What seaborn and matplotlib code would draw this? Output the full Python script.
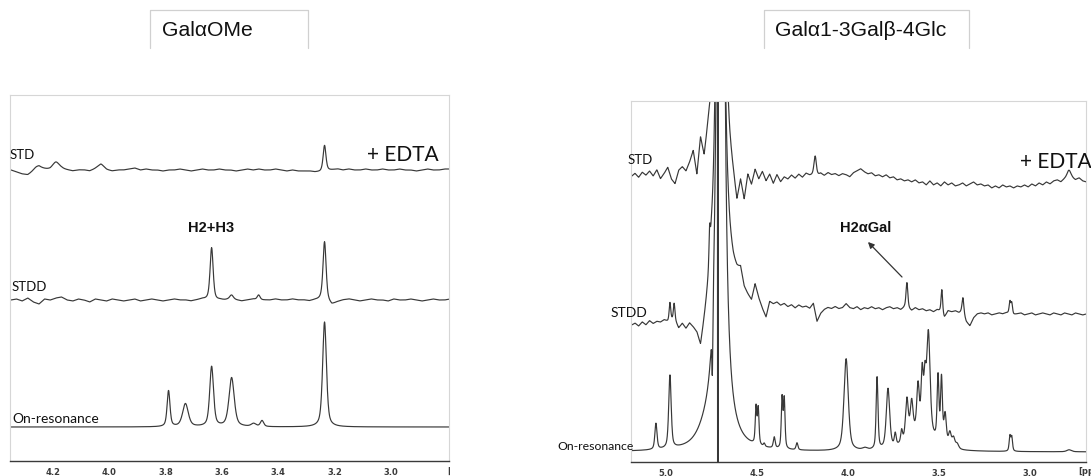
import numpy as np
import pandas as pd
import matplotlib
matplotlib.use("Agg")
import matplotlib.pyplot as plt
import seaborn as sns
from matplotlib.lines import Line2D
from matplotlib.ticker import MultipleLocator, FormatStrFormatter
from matplotlib.transforms import Bbox

# ---------------------------------------------------------------- data
# Peaks are (shift in ppm, height, full width at half height in ppm).
# Heights are in plot units (one unit = one pixel of the drawn figure).

# GalαOMe
gal_onres_peaks = [(3.790, 36, 0.012), (3.730, 23, 0.024), (3.637, 60, 0.016),
                   (3.566, 49, 0.022), (3.488, 3, 0.020), (3.458, 6, 0.014),
                   (3.236, 105, 0.016)]
gal_stdd_peaks = [(3.637, 53, 0.013), (3.566, 4, 0.015), (3.470, 5, 0.012),
                  (3.236, 59, 0.013)]
gal_std_peaks = [(4.260, 3, 0.030), (4.190, 7, 0.030), (4.030, 3, 0.030),
                 (3.236, 26, 0.012)]
# baseline of the difference spectra, one value every 0.02 ppm from 4.35 ppm
gal_base_start = 4.35
gal_std_base = [0, -2, -4, -5, -2, 2, 1, 0, 1, 1,
                0, -1, 0, 0, -1, 1, 3, 0, -1, 0,
                0, 1, 2, 0, 1, 0, 0, -1, 0, 0,
                1, 0, -1, 0, 1, 0, 0, 1, 0, 0,
                -1, 0, 1, 0, 1, 0, 0, 1, 0, -1,
                0, -1, -1, -1, -2, -2, -1, 0, 1, 0,
                1, 0, 0, 1, 0, 0, 1, 0, 0, 1,
                0, 0, -1, 0, 1, 0, 0, 1, 1]
gal_stdd_base = [0, 1, -1, 2, -2, -4, 1, 0, 2, 3,
                 0, -1, 1, 0, -2, 1, 0, -1, 1, 0,
                 -1, 0, 1, -1, 0, 1, 0, -1, 0, 1,
                 0, 0, -1, 0, 1, 0, -1, 0, 0, 1,
                 0, -1, 0, 1, 0, 0, 0, 1, 0, 0,
                 1, 0, 0, -1, 0, 0, -1, -5, -2, 0,
                 1, 0, -1, 0, 1, 0, 0, -1, 1, 0,
                 0, 1, 0, -1, 0, 1, 0, 0, 1]

# Galα1-3Galβ-4Glc
tri_onres_peaks = [(5.055, 26, 0.014), (4.978, 73, 0.016), (4.780, 10, 0.100),
                   (4.745, -60, 0.006), (4.714, -3000, 0.003),
                   (4.505, 37, 0.010), (4.493, 36, 0.010), (4.460, 3, 0.010),
                   (4.405, 11, 0.012), (4.362, 50, 0.010), (4.350, 49, 0.010),
                   (4.280, 7, 0.012), (4.010, 92, 0.028), (3.907, 2, 0.030),
                   (3.840, 72, 0.012), (3.780, 60, 0.022), (3.740, 12, 0.012),
                   (3.705, 12, 0.012), (3.676, 40, 0.018), (3.650, 33, 0.018),
                   (3.615, 44, 0.016), (3.592, 55, 0.014), (3.577, 44, 0.014),
                   (3.558, 100, 0.022), (3.505, 64, 0.012), (3.486, 64, 0.012),
                   (3.466, 30, 0.016), (3.440, 14, 0.018), (3.420, 10, 0.018),
                   (3.400, 5, 0.020), (3.600, 20, 0.160), (3.110, 15, 0.010),
                   (3.100, 14, 0.010), (2.785, 2, 0.030)]
tri_stdd_peaks = [(4.978, 18, 0.010), (4.955, 17, 0.010), (4.760, 30, 0.008),
                  (3.676, 26, 0.012), (3.484, 24, 0.010), (3.368, 15, 0.012),
                  (3.110, 12, 0.010), (3.100, 11, 0.010)]
tri_std_peaks = [(4.180, 20, 0.016), (2.785, 7, 0.025)]
# residual water line (shift, height, width), pure Lorentzian
tri_water = {"On-resonance": (4.700, 2850, 0.02),
             "STDD": (4.703, 2000, 0.02),
             "STD": (4.703, 1450, 0.02)}
# baseline of the difference spectra, one value every 0.02 ppm from 5.19 ppm
tri_base_start = 5.19
tri_std_base = [0, 3, -1, 4, 1, 5, 0, 6, -3, 2,
                8, -4, -9, 4, 7, 2, 10, 20, -6, 28,
                4, 25, 35, 0, 0, 0, 30, 0, -17, -38,
                -13, -30, -3, -12, 4, -5, 3, -6, 1, -8,
                1, -6, -1, -3, 1, -2, 2, -1, 3, 1,
                1, 0, 3, 1, 4, 2, 3, 1, 3, 2,
                0, 4, 6, 8, 5, 3, 4, 1, 2, 0,
                2, -1, 0, -3, -2, -4, -3, -5, -3, -6,
                -5, -8, -4, -8, -6, -9, -5, -8, -6, -9,
                -8, -6, -9, -7, -5, -8, -7, -9, -8, -11,
                -9, -11, -8, -10, -9, -11, -9, -10, -8, -10,
                -7, -9, -6, -8, -5, -7, -4, -3, -5, -2,
                0, -1, -3, -1, -4, -5]
tri_stdd_base = [-12, -10, -13, -9, -12, -8, -11, -9, -10, -8,
                 -10, -9, -10, -18, -14, -20, -16, -22, -30, -47,
                 -28, -10, 10, 0, 0, 0, 40, 30, 26, 27,
                 33, 17, 12, 8, 25, 12, 2, -6, 10, 8,
                 10, 7, 9, 6, 8, 5, 8, 6, 7, 5,
                 10, -8, 0, 4, 6, 5, 7, 5, 6, 10,
                 6, 5, 7, 4, 6, 5, 7, 5, 6, 4,
                 6, 7, 5, 6, 4, 6, 5, 3, 6, 4,
                 5, 3, 4, 2, 4, 2, -4, 3, 2, 3,
                 1, 2, -8, -12, -4, 0, 1, 0, 1, -1,
                 0, 1, 0, 1, 0, -1, 0, 1, -1, 0,
                 1, -1, 0, 1, 0, -1, 1, 0, -1, 1,
                 0, -1, 1, 0, -1, 0]
base_step = 0.02

# axis ticks
gal_ticks = [4.2, 4.0, 3.8, 3.6, 3.4, 3.2, 3.0]
tri_ticks = [5.0, 4.5, 4.0, 3.5, 3.0]

# ---------------------------------------------------------------- helpers
LINE = "#383838"


def line_shape(ppm, peaks, eta=0.55):
    """Sum of pseudo-Voigt lines, each of unit height at its centre."""
    out = np.zeros_like(ppm)
    for c, h, w in peaks:
        d = (ppm - c) / (w / 2.0)
        lor = 1.0 / (1.0 + d ** 2)
        gau = np.exp(-np.log(2.0) * d ** 2)
        out += h * (eta * lor + (1 - eta) * gau)
    return out


def baseline(ppm, start, values):
    grid = start - base_step * np.arange(len(values))
    return np.interp(ppm, grid[::-1], np.asarray(values, float)[::-1])


def lorentz(ppm, c, h, w):
    return h / (1.0 + ((ppm - c) / (w / 2.0)) ** 2)


W, H = 1091, 477
fig = plt.figure(figsize=(W / 100, H / 100), dpi=100)
sns.set_style("white")
plt.rcParams["font.family"] = ["Lato", "DejaVu Sans"]


def px_axes(left, top, right, bottom):
    return fig.add_axes([left / W, 1 - bottom / H, (right - left) / W, (bottom - top) / H])


def style_axes(ax, ticks, minor):
    for s in ("top", "left", "right"):
        ax.spines[s].set_color("#d6d6d6")
        ax.spines[s].set_linewidth(0.8)
    ax.spines["bottom"].set_color("#3a3a3a")
    ax.spines["bottom"].set_linewidth(1.0)
    ax.set_yticks([])
    ax.set_xticks(ticks)
    ax.xaxis.set_minor_locator(MultipleLocator(minor))
    ax.xaxis.set_major_formatter(FormatStrFormatter("%.1f"))
    ax.tick_params(axis="x", which="major", direction="out", length=3, width=0.8,
                   color="#3a3a3a", labelsize=6, labelcolor="#3a3a3a", pad=1.0)
    ax.tick_params(axis="x", which="minor", direction="out", length=2, width=0.7,
                   color="#3a3a3a")
    for lab in ax.get_xticklabels():
        lab.set_fontfamily("DejaVu Sans")
        lab.set_fontweight("bold")
    ax.set_xlabel("")
    ax.set_ylabel("")


def draw_traces(ax, frames):
    df = pd.concat(frames, ignore_index=True)
    sns.lineplot(data=df, x="ppm", y="y", units="trace", estimator=None, sort=False,
                 color=LINE, linewidth=0.85, ax=ax, legend=False)


# ---------------------------------------------------------------- GalαOMe panel
axL = px_axes(10, 96, 449, 462)
ppmL = np.linspace(4.353, 2.794, 1800)
levels_L = {"On-resonance": 34, "STDD": 161, "STD": 291}
yL = {
    "On-resonance": line_shape(ppmL, gal_onres_peaks),
    "STDD": line_shape(ppmL, gal_stdd_peaks) + baseline(ppmL, gal_base_start, gal_stdd_base),
    "STD": line_shape(ppmL, gal_std_peaks) + baseline(ppmL, gal_base_start, gal_std_base),
}
draw_traces(axL, [pd.DataFrame({"ppm": ppmL, "y": levels_L[k] + v, "trace": k})
                  for k, v in yL.items()])
axL.set_xlim(4.353, 2.794)
axL.set_ylim(0, 366)
style_axes(axL, gal_ticks, 0.05)

axL.text(4.356, 307, "STD", fontsize=9.5, ha="left", va="center", color="#111")
axL.text(2.957, 307, "+ EDTA", fontsize=15, ha="center", va="center", color="#111")
axL.text(3.640, 234, "H2+H3", fontsize=10.5, fontweight="bold", family="Liberation Sans",
         ha="center", va="center", color="#111")
axL.text(4.346, 175, "STDD", fontsize=9.5, ha="left", va="center", color="#111")
axL.text(4.346, 43, "On-resonance", fontsize=10, ha="left", va="center", color="#111")

# ---------------------------------------------------------------- trisaccharide panel
axR = px_axes(631, 102, 1086, 463)
ppmR = np.linspace(5.192, 2.692, 3000)
levels_R = {"On-resonance": 10, "STDD": 148, "STD": 285}
yR = {
    "On-resonance": line_shape(ppmR, tri_onres_peaks),
    "STDD": line_shape(ppmR, tri_stdd_peaks) + baseline(ppmR, tri_base_start, tri_stdd_base),
    "STD": line_shape(ppmR, tri_std_peaks) + baseline(ppmR, tri_base_start, tri_std_base),
}
for k in yR:
    yR[k] = yR[k] + lorentz(ppmR, *tri_water[k])
draw_traces(axR, [pd.DataFrame({"ppm": ppmR, "y": levels_R[k] + v, "trace": k})
                  for k, v in yR.items()])
axR.set_xlim(5.192, 2.692)
axR.set_ylim(0, 361)
style_axes(axR, tri_ticks, 0.1)

axR.text(5.209, 303, "STD", fontsize=9.5, ha="left", va="center", color="#111")
axR.text(3.055, 301, "+ EDTA", fontsize=15, ha="left", va="center", color="#111",
         clip_on=False)
axR.text(3.901, 235, "H2αGal", fontsize=10.5, fontweight="bold", family="Liberation Sans",
         ha="center", va="center", color="#111")
axR.annotate("", xy=(3.890, 220), xytext=(3.703, 185),
             arrowprops=dict(arrowstyle="-|>", color="#333", lw=0.9,
                             mutation_scale=9, shrinkA=0, shrinkB=0))
axR.text(5.302, 150, "STDD", fontsize=10, ha="left", va="center", color="#111")
axR.text(5.176, 17, "On-resonance", fontsize=8.8, ha="right", va="center", color="#111")

# unit labels at the right end of each axis (cut by the panel edge)
for xpx, right_edge in ((447, 450), (1078, W)):
    t = fig.text(xpx / W, 1 - 472 / H, "[ppm]", fontsize=6, fontweight="bold",
                 family="DejaVu Sans", color="#3a3a3a", ha="left", va="center")
    t.set_clip_box(Bbox.from_extents(0, 0, right_edge, H))
    t.set_clip_on(True)

# ---------------------------------------------------------------- title boxes
for (x0, x1, tx, label) in ((150, 308, 162, "GalαOMe"),
                            (764, 969, 775, "Galα1-3Galβ-4Glc")):
    fig.add_artist(Line2D([x0 / W, x0 / W, x1 / W, x1 / W],
                          [1 - 49 / H, 1 - 11 / H, 1 - 11 / H, 1 - 49 / H],
                          color="#d0d0d0", lw=0.9))
    fig.text(tx / W, 1 - 31 / H, label, fontsize=15.2, family="Liberation Sans",
             ha="left", va="center", color="#111")

fig.savefig("out.png", dpi=100)
